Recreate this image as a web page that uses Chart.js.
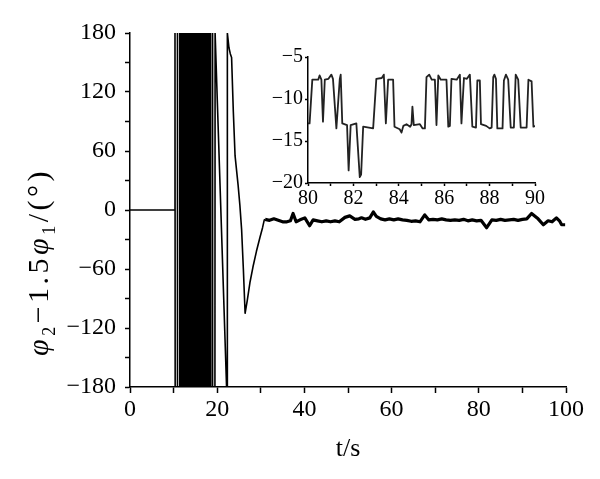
<!DOCTYPE html>
<html>
<head>
<meta charset="utf-8">
<script src="https://cdn.jsdelivr.net/npm/chart.js@4.4.0/dist/chart.umd.min.js"></script>
<style>
  body { margin: 0; background: #fff; }
  #wrap { position: relative; width: 600px; height: 479px; }
  #mainChart { position: absolute; left: 0; top: 0; }
  #insetChart { position: absolute; left: 240px; top: 40px; }
</style>
</head>
<body>
<div id="wrap">
  <canvas id="mainChart" width="600" height="479"></canvas>
  <canvas id="insetChart" width="310" height="180"></canvas>
</div>
<script>
// transient part of phi2 - 1.5 phi1 (wrapped to +-180)
const transT = [0, 10.3, 10.32, 10.36, 10.85, 10.87, 10.91, 11.5,
  11.6, 11.8, 12.0, 12.2, 12.4, 12.6, 12.8, 13.0, 13.2, 13.4, 13.6, 13.8,
  14.0, 14.2, 14.4, 14.6, 14.8, 15.0, 15.2, 15.4, 15.6, 15.8, 16.0, 16.2,
  16.4, 16.6, 16.8, 17.0, 17.2, 17.4, 17.6, 17.8, 18.0, 18.2, 18.3, 18.35,
  18.9, 18.92, 18.96, 19.48, 19.52, 20.8, 22.15, 22.3, 22.33, 22.7, 23.0,
  23.3, 23.7, 24.1, 24.8, 25.2, 25.6, 26.0, 26.4, 26.9, 27.5, 28.2, 29.0,
  29.8, 30.4, 30.8, 31.0];
const transPhi = [0, 0, 180, -180, -180, 180, -180, -180,
  180, -180, 180, -180, 180, -180, 180, -180, 180, -180, 180, -180,
  180, -180, 180, -180, 180, -180, 180, -180, 180, -180, 180, -180,
  180, -180, 180, -180, 180, -180, 180, -180, 180, -180, 180, -180,
  -180, 180, -180, -180, 180, 5, -180, -180, 180, 165, 159,
  155, 100, 55, 25, 5, -20, -60, -105, -92, -74, -58, -42,
  -28, -18, -10, -9.5];

// steady part (fast switching band around -10)
const steadyT = [31, 32, 33, 34, 35, 36, 36.8, 37.4, 38.1, 39, 40.1, 41.2,
  42, 43, 44, 45, 46, 47, 48, 49.3, 50.4, 51.6, 52.5, 53.1, 54, 55, 55.8,
  56.5, 57.5, 58.5, 59.5, 60.5, 61.5, 62.5, 63.5, 64.5, 65.5, 66.5, 67.6,
  68.5, 69.5, 70.5, 71.5, 72.5, 73.5, 74.5, 75.5, 76.5, 77.5, 78.5, 79.5,
  80.5, 81.8, 83, 84, 85, 86, 87, 88, 89, 90, 91, 92.1, 93.6, 94.8, 95.9,
  96.8, 97.8, 98.5, 99, 99.8];
const steadyPhi = [-9.5, -10.5, -9, -10.5, -12, -12, -11, -3.5, -12, -10, -8, -16,
  -10, -11, -12, -11, -12, -11, -12, -7.5, -6, -9.5, -9, -8, -9.5, -8, -2,
  -6.5, -9, -10, -9, -10, -9, -10, -10.5, -11.5, -11, -12, -5,
  -10, -9.5, -10, -9, -10, -10.5, -10, -10.5, -9.5, -11, -10, -11,
  -10.5, -18, -10, -10.5, -9.5, -10.5, -10, -9.5, -10.5, -9.5, -9, -3.5, -9, -15, -11,
  -12, -8, -11, -15, -15];

// inset: zoom of 80-90 s
const insetT = [80.00, 80.07, 80.19, 80.45, 80.51, 80.59, 80.66, 80.74, 80.90, 81.03,
  81.10, 81.25, 81.40, 81.44, 81.51, 81.72, 81.79, 81.88, 82.13, 82.28, 82.34,
  82.43, 82.87, 83.01, 83.25, 83.34, 83.43, 83.53, 83.75, 83.81, 84.04, 84.12,
  84.20, 84.34, 84.50, 84.56, 84.60, 84.66, 84.93, 85.05, 85.15, 85.22, 85.34,
  85.45, 85.59, 85.66, 85.74, 85.85, 86.10, 86.18, 86.25, 86.32, 86.55, 86.69,
  86.76, 86.87, 87.00, 87.13, 87.24, 87.40, 87.46, 87.57, 87.62, 87.85, 88.00,
  88.09, 88.16, 88.21, 88.28, 88.34, 88.57, 88.63, 88.72, 88.82, 88.93, 89.07,
  89.15, 89.26, 89.37, 89.63, 89.71, 89.85, 89.93, 90.00];
const insetPhi = [-12.9, -12.9, -7.7, -7.7, -7.2, -7.7, -12.7, -7.7, -7.6, -7.1,
  -7.6, -13.5, -7.6, -7.1, -12.9, -13.1, -18.5, -13.1, -12.9, -19.3, -19.0,
  -13.3, -13.5, -7.6, -7.5, -7.1, -12.9, -7.7, -7.7, -13.3, -13.6, -14.0,
  -13.2, -13.0, -13.3, -13.0, -10.9, -13.1, -13.0, -13.5, -13.5, -7.4, -7.1,
  -7.7, -7.7, -13.1, -7.2, -7.7, -7.7, -13.3, -13.2, -7.6, -7.7, -7.1,
  -12.9, -7.5, -7.6, -7.1, -13.3, -13.4, -7.8, -7.8, -13.0, -13.2, -13.5,
  -13.4, -7.4, -7.1, -7.6, -13.5, -13.5, -7.8, -7.1, -7.7, -13.4, -13.4,
  -7.1, -7.7, -13.4, -13.4, -7.7, -7.9, -13.3, -13.2];

const xTicksMain = [0, 20, 40, 60, 80, 100];
const yTicksMain = [-180, -120, -60, 0, 60, 120, 180];
const xTicksInset = [80, 82, 84, 86, 88, 90];
const yTicksInset = [-20, -15, -10, -5];

const yTitleParts = [
  { text: 'φ', italic: true, sub: false },
  { text: '2', italic: false, sub: true },
  { text: '−1.5', italic: false, sub: false },
  { text: 'φ', italic: true, sub: false },
  { text: '1', italic: false, sub: true },
  { text: '/(°)', italic: false, sub: false },
];

const serif = '"Liberation Serif", "Times New Roman", serif';
const minus = (v) => String(v).replace('-', '\u2212');
const toPoints = (xs, ys) => xs.map((x, i) => ({ x: x, y: ys[i] }));

// y title with italic phi and subscripts, drawn rotated
const yTitlePlugin = {
  id: 'yTitle',
  afterDraw(chart) {
    const ctx = chart.ctx;
    const size = 30;
    const fontOf = (p) => (p.italic ? 'italic ' : '') + (p.sub ? size * 0.6 : size) + 'px ' + serif;
    ctx.save();
    ctx.letterSpacing = '3.5px';
    let total = 0;
    yTitleParts.forEach((p) => {
      ctx.font = fontOf(p);
      p.w = ctx.measureText(p.text).width;
      total += p.w;
    });
    ctx.translate(48, 262 + total / 2);
    ctx.rotate(-Math.PI / 2);
    ctx.fillStyle = '#000';
    ctx.textBaseline = 'alphabetic';
    let x = 0;
    yTitleParts.forEach((p) => {
      ctx.font = fontOf(p);
      ctx.fillText(p.text, x, p.sub ? size * 0.22 : 0);
      x += p.w;
    });
    ctx.restore();
  },
};

function axis(min, max, step, shown, fontSize, tickLen, pad) {
  return {
    type: 'linear',
    min: min,
    max: max,
    grid: { drawOnChartArea: false, drawTicks: true, tickLength: tickLen, tickWidth: 1.5, tickColor: '#000' },
    border: { display: true, color: '#000', width: 1.5 },
    ticks: {
      stepSize: step,
      autoSkip: false,
      maxRotation: 0,
      padding: pad,
      color: '#000',
      font: { family: serif, size: fontSize },
      callback: (v) => (shown.includes(v) ? minus(v) : ''),
    },
  };
}

const xMain = axis(0, 100, 10, xTicksMain, 24, 6, 2);
xMain.title = { display: true, text: 't/s', color: '#000', font: { family: serif, size: 26 }, padding: { top: 0, bottom: 14 } };
xMain.afterFit = (scale) => { scale.height = 92; };
const yMain = axis(-180, 180, 30, yTicksMain, 24, 5, 9);
yMain.afterFit = (scale) => { scale.width = 130; };

// the fast wrapping between 11.5 s and 18.35 s is drawn thicker so it reads as a solid block
const inBlock = (ctx) => ctx.p0.parsed.x >= 11.5 && ctx.p1.parsed.x <= 18.35;

new Chart('mainChart', {
  type: 'line',
  data: {
    datasets: [
      {
        data: toPoints(transT, transPhi),
        borderColor: '#000',
        borderWidth: 1.6,
        borderJoinStyle: 'round',
        pointRadius: 0,
        segment: { borderWidth: (ctx) => (inBlock(ctx) ? 3.2 : undefined) },
      },
      {
        data: toPoints(steadyT, steadyPhi),
        borderColor: '#000',
        borderWidth: 3.2,
        borderJoinStyle: 'round',
        pointRadius: 0,
      },
    ],
  },
  options: {
    responsive: false,
    animation: false,
    layout: { padding: { top: 33, right: 34, left: 0, bottom: 0 } },
    plugins: { legend: { display: false }, tooltip: { enabled: false } },
    scales: { x: xMain, y: yMain },
  },
  plugins: [yTitlePlugin],
});

const xInset = axis(80, 90, 1, xTicksInset, 20, 3, 1);
xInset.afterFit = (scale) => { scale.height = 37; };
const yInset = axis(-20, -5, 5, yTicksInset, 20, 3, 2);
yInset.afterFit = (scale) => { scale.width = 68; };

new Chart('insetChart', {
  type: 'line',
  data: {
    datasets: [
      {
        data: toPoints(insetT, insetPhi),
        borderColor: '#222',
        borderWidth: 1.8,
        borderJoinStyle: 'round',
        pointRadius: 0,
      },
    ],
  },
  options: {
    responsive: false,
    animation: false,
    layout: { padding: { top: 17, right: 15, left: 0, bottom: 0 } },
    plugins: { legend: { display: false }, tooltip: { enabled: false } },
    scales: { x: xInset, y: yInset },
  },
});
</script>
</body>
</html>
